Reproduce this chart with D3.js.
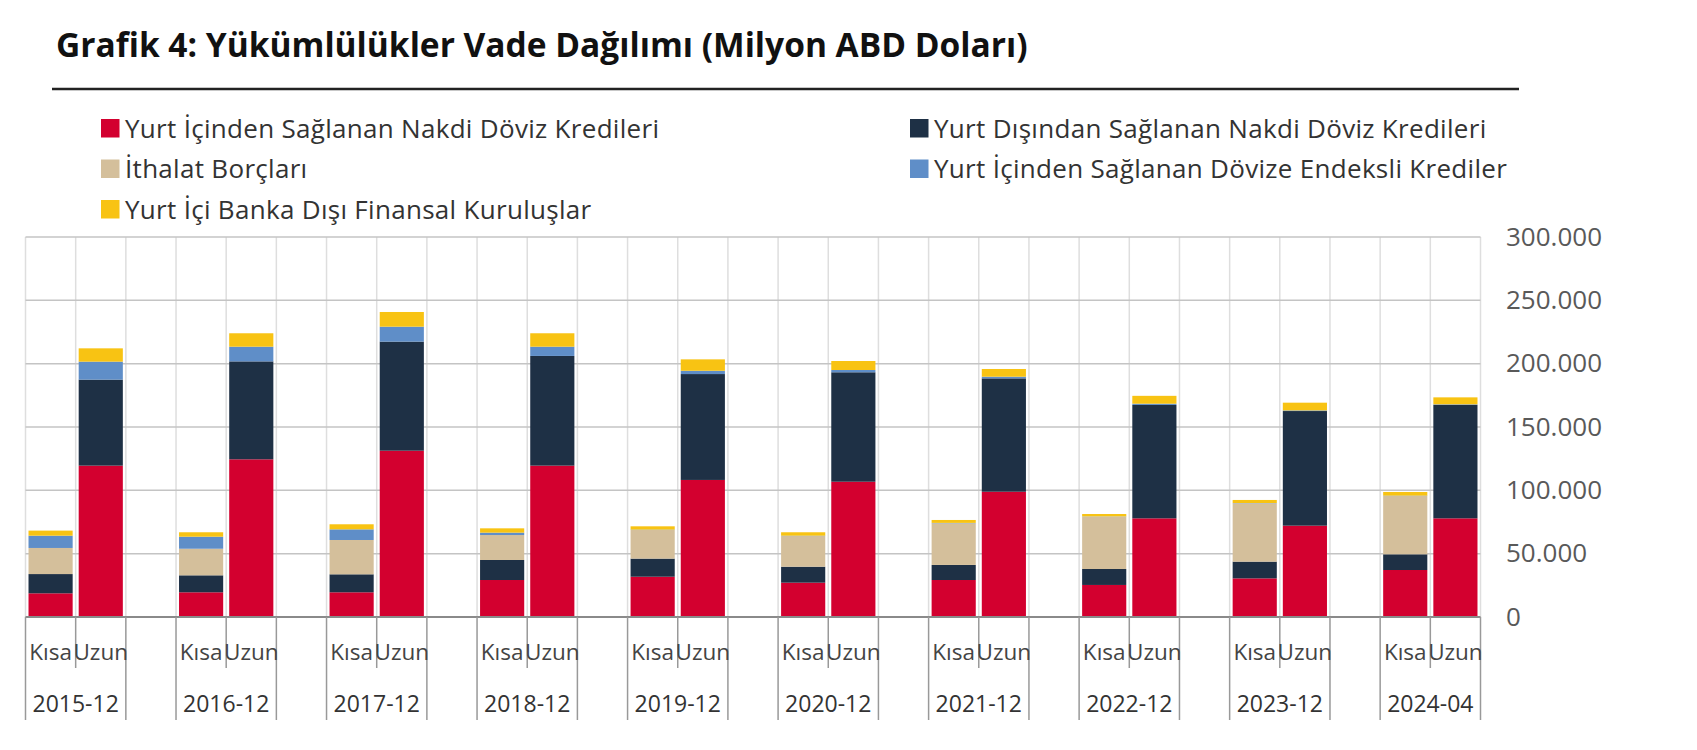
<!DOCTYPE html>
<html>
<head>
<meta charset="utf-8">
<script src="https://cdn.jsdelivr.net/npm/d3@7"></script>
<style>
  body { margin: 0; background: #fff; }
  svg { display: block; font-family: "Open Sans", sans-serif; }
</style>
</head>
<body>
<svg id="chart" width="1697" height="750"></svg>
<script>
// Data (Milyon ABD Doları)
const groups = ["2015-12", "2016-12", "2017-12", "2018-12", "2019-12", "2020-12", "2021-12", "2022-12", "2023-12", "2024-04"];
const terms = ["Kısa", "Uzun"];

const yurtIciNakdiKisa = [18700, 19500, 19500, 29200, 31800, 27100, 29200, 25300, 30500, 37100];
const yurtIciNakdiUzun = [119500, 124500, 131300, 119500, 108200, 106800, 98900, 77900, 72100, 77900];
const yurtDisiNakdiKisa = [15200, 13400, 14200, 15800, 14300, 12600, 11900, 12600, 13200, 12400];
const yurtDisiNakdiUzun = [67900, 77300, 86100, 86600, 83600, 86400, 89500, 89500, 90500, 89500];
const ithalatKisa = [20600, 21000, 27100, 19700, 22600, 24200, 32900, 41300, 46100, 46000];
const ithalatUzun = [0, 0, 0, 0, 0, 0, 0, 0, 0, 0];
const endeksliKisa = [9700, 9500, 8400, 1900, 300, 300, 300, 200, 200, 300];
const endeksliUzun = [14200, 11600, 11800, 7300, 2600, 1800, 1300, 1000, 500, 500];
const bankaDisiKisa = [4000, 3500, 4000, 3400, 2600, 2700, 2300, 1900, 2400, 2900];
const bankaDisiUzun = [10500, 10600, 11600, 10600, 9000, 7100, 6100, 6200, 6100, 5500];

const yTicks = [0, 50000, 100000, 150000, 200000, 250000, 300000];

const series = [
  { key: "yurtIciNakdi", name: "Yurt İçinden Sağlanan Nakdi Döviz Kredileri", color: "#d3002f", kisa: yurtIciNakdiKisa, uzun: yurtIciNakdiUzun },
  { key: "yurtDisiNakdi", name: "Yurt Dışından Sağlanan Nakdi Döviz Kredileri", color: "#1e3045", kisa: yurtDisiNakdiKisa, uzun: yurtDisiNakdiUzun },
  { key: "ithalat", name: "İthalat Borçları", color: "#d4bf9b", kisa: ithalatKisa, uzun: ithalatUzun },
  { key: "endeksli", name: "Yurt İçinden Sağlanan Dövize Endeksli Krediler", color: "#5f8ec8", kisa: endeksliKisa, uzun: endeksliUzun },
  { key: "bankaDisi", name: "Yurt İçi Banka Dışı Finansal Kuruluşlar", color: "#f8c313", kisa: bankaDisiKisa, uzun: bankaDisiUzun }
];

// rows for stacking: one per group/term
const rows = [];
groups.forEach((g, i) => {
  terms.forEach(t => {
    const row = { group: g, term: t };
    series.forEach(s => { row[s.key] = t === "Kısa" ? s.kisa[i] : s.uzun[i]; });
    rows.push(row);
  });
});

const svg = d3.select("#chart");

const plotLeft = 25.5, plotRight = 1480.5, plotTop = 237, plotBottom = 617;

// slots: Kısa, Uzun, and an empty gap between groups
const slotKeys = [];
groups.forEach((g, i) => {
  slotKeys.push(g + "|Kısa", g + "|Uzun");
  if (i < groups.length - 1) slotKeys.push(g + "|gap");
});

const x = d3.scaleBand().domain(slotKeys).range([plotLeft, plotRight]);
const bw = x.bandwidth();

const y = d3.scaleLinear().domain([0, 300000]).range([plotBottom, plotTop]);

const locale = d3.formatLocale({ decimal: ",", thousands: ".", grouping: [3], currency: ["", ""] });
const fmt = locale.format(",");

// Title
svg.append("text")
  .attr("x", 56)
  .attr("y", 57)
  .attr("font-size", 33.5)
  .attr("font-weight", 700)
  .attr("fill", "#111")
  .text("Grafik 4: Yükümlülükler Vade Dağılımı (Milyon ABD Doları)");

svg.append("line")
  .attr("x1", 52).attr("x2", 1519)
  .attr("y1", 89).attr("y2", 89)
  .attr("stroke", "#222")
  .attr("stroke-width", 2.5);

// Legend
const legendPos = [[101, 137.5], [910, 137.5], [101, 178], [910, 178], [101, 218.5]];
const legend = svg.append("g");
series.forEach((s, i) => {
  const [lx, ly] = legendPos[i];
  legend.append("rect")
    .attr("x", lx).attr("y", ly - 18.5)
    .attr("width", 18.5).attr("height", 18.5)
    .attr("fill", s.color);
  legend.append("text")
    .attr("x", lx + 24).attr("y", ly)
    .attr("font-size", 26)
    .attr("letter-spacing", 0.3)
    .attr("fill", "#333")
    .text(s.name);
});

// Gridlines
const grid = svg.append("g");
grid.selectAll("line.v")
  .data(slotKeys.map(k => x(k)).concat([plotRight]))
  .join("line")
  .attr("class", "v")
  .attr("x1", d => d).attr("x2", d => d)
  .attr("y1", plotTop).attr("y2", plotBottom)
  .attr("stroke", "#dedede")
  .attr("stroke-width", 1.5);

grid.selectAll("line.h")
  .data(yTicks.filter(d => d > 0))
  .join("line")
  .attr("class", "h")
  .attr("x1", plotLeft).attr("x2", plotRight)
  .attr("y1", d => y(d)).attr("y2", d => y(d))
  .attr("stroke", "#c4c4c4")
  .attr("stroke-width", 1.5);

// Bars
const stack = d3.stack().keys(series.map(s => s.key));
const stacked = stack(rows);
const barW = bw * 0.88;

svg.append("g")
  .selectAll("g")
  .data(stacked)
  .join("g")
  .attr("fill", (d, i) => series[i].color)
  .selectAll("rect")
  .data(d => d)
  .join("rect")
  .attr("x", d => x(d.data.group + "|" + d.data.term) + (bw - barW) / 2)
  .attr("y", d => y(d[1]))
  .attr("width", barW)
  .attr("height", d => Math.max(0, y(d[0]) - y(d[1])));

// Y axis on right
const yAxis = svg.append("g")
  .attr("transform", `translate(${plotRight},0)`)
  .call(d3.axisRight(y).tickValues(yTicks).tickFormat(fmt).tickSize(0).tickPadding(25.5));
yAxis.select(".domain").remove();
yAxis.selectAll("text")
  .attr("font-size", 26)
  .attr("font-family", "Open Sans, sans-serif")
  .attr("fill", "#595959");

// X axis line
svg.append("line")
  .attr("x1", plotLeft).attr("x2", plotRight)
  .attr("y1", plotBottom).attr("y2", plotBottom)
  .attr("stroke", "#8a8a8a")
  .attr("stroke-width", 2);

// X axis separators and labels
const xg = svg.append("g");
groups.forEach(g => {
  const x0 = x(g + "|Kısa");
  const xm = x(g + "|Uzun");
  const x1 = xm + bw;
  [x0, x1].forEach(px => {
    xg.append("line")
      .attr("x1", px).attr("x2", px)
      .attr("y1", plotBottom).attr("y2", 720)
      .attr("stroke", "#999").attr("stroke-width", 1.5);
  });
  xg.append("line")
    .attr("x1", xm).attr("x2", xm)
    .attr("y1", plotBottom).attr("y2", 668)
    .attr("stroke", "#999").attr("stroke-width", 1.5);

  terms.forEach(t => {
    xg.append("text")
      .attr("x", x(g + "|" + t) + bw / 2)
      .attr("y", 659.5)
      .attr("text-anchor", "middle")
      .attr("font-size", 22.5)
      .attr("fill", "#444")
      .text(t);
  });

  xg.append("text")
    .attr("x", xm)
    .attr("y", 711.5)
    .attr("text-anchor", "middle")
    .attr("font-size", 23)
    .attr("fill", "#333")
    .text(g);
});
</script>
</body>
</html>
